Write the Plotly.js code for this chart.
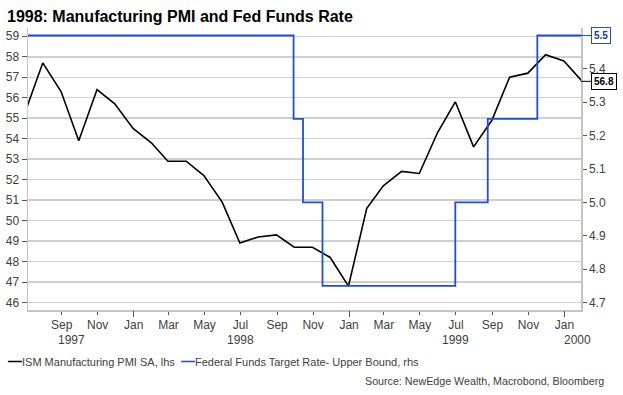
<!DOCTYPE html>
<html>
<head>
<meta charset="utf-8">
<script src="https://cdn.plot.ly/plotly-3.0.1.min.js"></script>
<style>
html,body{margin:0;padding:0;background:#fff;}
#chart{width:623px;height:395px;}
</style>
</head>
<body>
<div id="chart"></div>
<script>
// ---- Data ----
const pmiDates = [
  '1997-06-30','1997-07-31','1997-08-31','1997-09-30','1997-10-31','1997-11-30','1997-12-31',
  '1998-01-31','1998-02-28','1998-03-31','1998-04-30','1998-05-31','1998-06-30',
  '1998-07-31','1998-08-31','1998-09-30','1998-10-31','1998-11-30','1998-12-31',
  '1999-01-31','1999-02-28','1999-03-31','1999-04-30','1999-05-31','1999-06-30',
  '1999-07-31','1999-08-31','1999-09-30','1999-10-31','1999-11-30','1999-12-31',
  '2000-01-31'
];
const pmiValues = [
  55.2, 57.7, 56.3, 53.9, 56.4, 55.7, 54.5,
  53.8, 52.9, 52.9, 52.2, 50.9, 48.9,
  49.2, 49.3, 48.7, 48.7, 48.2, 46.8,
  50.6, 51.7, 52.4, 52.3, 54.3, 55.8,
  53.6, 54.9, 57.0, 57.2, 58.1, 57.8,
  56.8
];
const fedDates = ['1997-06-30','1998-09-29','1998-10-15','1998-11-17','1999-06-30','1999-08-24','1999-11-16','2000-01-31'];
const fedValues = [5.5, 5.25, 5.0, 4.75, 5.0, 5.25, 5.5, 5.5];

const monthTickDates = ['1997-09-01','1997-11-01','1998-01-01','1998-03-01','1998-05-01','1998-07-01','1998-09-01','1998-11-01',
  '1999-01-01','1999-03-01','1999-05-01','1999-07-01','1999-09-01','1999-11-01','2000-01-01'];
const monthTickLabels = ['Sep','Nov','Jan','Mar','May','Jul','Sep','Nov','Jan','Mar','May','Jul','Sep','Nov','Jan'];
const yearTickDates = ['1998-01-01','1999-01-01','2000-01-01'];
const yearLabels = ['1997','1998','1999','2000'];
const yearLabelDates = ['1997-09-18','1998-07-01','1999-07-01','2000-01-01'];

const leftTicks = [46,47,48,49,50,51,52,53,54,55,56,57,58,59];
const rightTicks = [4.7,4.8,4.9,5.0,5.1,5.2,5.3,5.4];

const seriesNames = ['ISM Manufacturing PMI SA, lhs', 'Federal Funds Target Rate- Upper Bound, rhs'];
const titleText = '1998: Manufacturing PMI and Fed Funds Rate';
const sourceText = 'Source: NewEdge Wealth, Macrobond, Bloomberg';

// ---- Styles ----
const BLUE = '#1f4fd6';
const BLACK = '#000000';
const TXT = '#404040';
const GRID = '#cfcfcf';
const AXIS = '#c4c4c4';
const FONT = 'Liberation Sans, Arial, sans-serif';
const xRange = ['1997-07-06', '2000-01-29'];

const traces = [
  {x: pmiDates, y: pmiValues, name: seriesNames[0], type: 'scatter', mode: 'lines',
   line: {color: BLACK, width: 1.6}, xaxis: 'x', yaxis: 'y', showlegend: false},
  {x: fedDates, y: fedValues, name: seriesNames[1], type: 'scatter', mode: 'lines',
   line: {color: BLUE, width: 1.8, shape: 'hv'}, xaxis: 'x', yaxis: 'y2', showlegend: false},
  {x: [xRange[0]], y: [null], xaxis: 'x2', yaxis: 'y', mode: 'lines', showlegend: false, hoverinfo: 'skip'}
];

const lastPmi = pmiValues[pmiValues.length - 1];
const lastFed = fedValues[fedValues.length - 1];

const plotL = 28, plotR = 580.7, plotT = 28, plotB = 310;
const pw = plotR - plotL, ph = plotB - plotT;
const px = v => (v - plotL) / pw;
const py = v => (plotB - v) / ph;

const annotations = [];
// year labels
yearLabels.forEach((t, i) => {
  const last = i === yearLabels.length - 1;
  annotations.push({
    text: t, x: yearLabelDates[i], xref: 'x', y: py(339.5), yref: 'paper',
    xanchor: 'center', yanchor: 'middle', showarrow: false,
    xshift: last ? 13 : 0,
    font: {family: FONT, size: 12, color: TXT}
  });
});
// end-value callouts
annotations.push({
  text: '<b>' + lastFed.toFixed(1) + '</b>', x: xRange[1], xref: 'x', y: lastFed, yref: 'y2',
  showarrow: true, arrowhead: 0, arrowwidth: 1, arrowcolor: BLUE, ax: 20, ay: 0,
  bordercolor: BLUE, borderwidth: 1, borderpad: 2, bgcolor: '#ffffff',
  font: {family: FONT, size: 10, color: '#1a3a99'}
});
annotations.push({
  text: '<b>' + lastPmi.toFixed(1) + '</b>', x: xRange[1], xref: 'x', y: lastPmi, yref: 'y',
  showarrow: true, arrowhead: 0, arrowwidth: 1, arrowcolor: BLACK, ax: 23, ay: 0,
  bordercolor: BLACK, borderwidth: 1, borderpad: 2, bgcolor: '#ffffff',
  font: {family: FONT, size: 10, color: BLACK}
});
// legend (as text)
annotations.push({
  text: '<span style="color:' + BLACK + ';font-size:14px"><b>—</b></span>' + seriesNames[0] +
        '  <span style="color:' + BLUE + ';font-size:14px"><b>—</b></span>' + seriesNames[1],
  x: px(6), xref: 'paper', y: py(361), yref: 'paper', xanchor: 'left', yanchor: 'middle',
  showarrow: false, font: {family: FONT, size: 11, color: TXT}
});
// source
annotations.push({
  text: sourceText, x: px(606), xref: 'paper', y: py(380.5), yref: 'paper',
  xanchor: 'right', yanchor: 'middle', showarrow: false,
  font: {family: FONT, size: 10.7, color: TXT}
});

const layout = {
  width: 623, height: 395,
  margin: {l: plotL, r: 623 - plotR, t: plotT, b: 395 - plotB, pad: 0},
  paper_bgcolor: '#ffffff', plot_bgcolor: '#ffffff',
  showlegend: false,
  title: {text: titleText, x: 7/623, xref: 'container', xanchor: 'left',
          y: 1 - 16/395, yref: 'container', yanchor: 'middle',
          font: {family: FONT, size: 16, color: '#000000', weight: 'bold'}},
  xaxis: {type: 'date', range: xRange, tickvals: monthTickDates, ticktext: monthTickLabels,
          ticks: 'outside', ticklen: 3, tickwidth: 1, tickcolor: '#555',
          showline: true, linecolor: AXIS, linewidth: 1.5, showgrid: false, zeroline: false,
          tickfont: {family: FONT, size: 12, color: TXT}},
  xaxis2: {type: 'date', range: xRange, overlaying: 'x', anchor: 'y', side: 'bottom',
          tickvals: yearTickDates, ticktext: ['', '', ''], showticklabels: false,
          ticks: 'outside', ticklen: 6, tickwidth: 1, tickcolor: '#555',
          showline: false, showgrid: false, zeroline: false},
  yaxis: {range: [45.634, 59.405], tickvals: leftTicks, ticks: 'outside', ticklen: 5,
          tickwidth: 1, tickcolor: '#555', showline: true, linecolor: AXIS, linewidth: 1.5,
          showgrid: true, gridcolor: GRID, gridwidth: 1.5, zeroline: false,
          tickfont: {family: FONT, size: 12, color: TXT}},
  yaxis2: {range: [4.6775, 5.5225], tickvals: rightTicks, tickformat: '.1f', overlaying: 'y',
          side: 'right', ticks: 'outside', ticklen: 4, tickwidth: 1, tickcolor: '#555',
          showline: true, linecolor: AXIS, linewidth: 1.5, showgrid: false, zeroline: false,
          tickfont: {family: FONT, size: 12, color: TXT}},
  annotations: annotations
};

Plotly.newPlot('chart', traces, layout, {staticPlot: true, displayModeBar: false});
</script>
</body>
</html>
